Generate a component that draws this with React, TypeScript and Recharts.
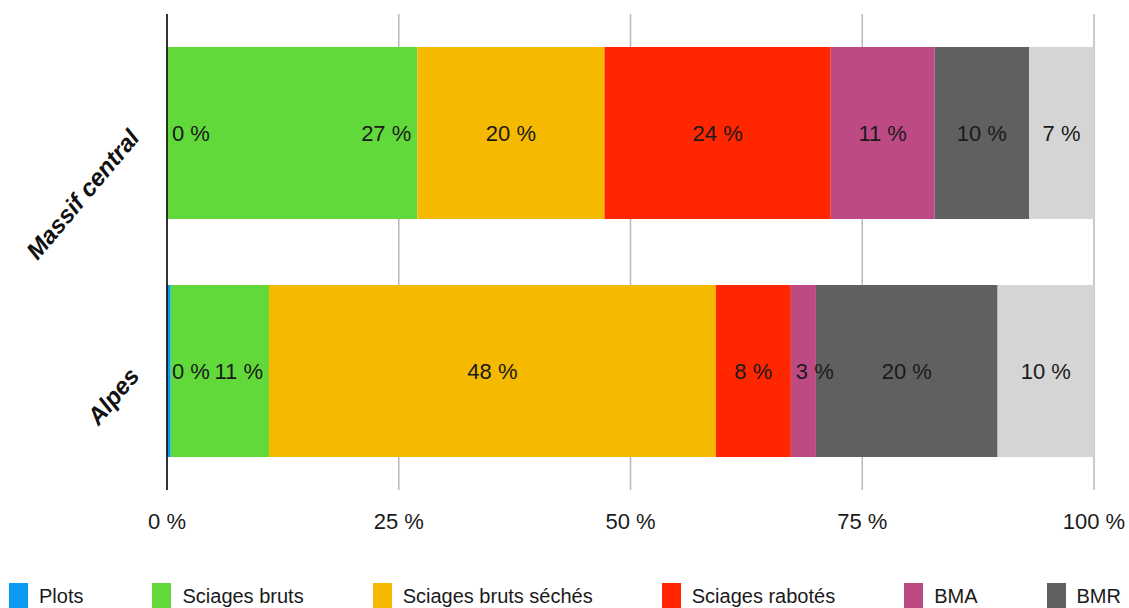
import { Bar, BarChart, CartesianGrid, XAxis, YAxis } from "recharts"

const REGIONS = ["Massif central", "Alpes"]
const PLOTS = [0, 0.4]
const SCIAGES_BRUTS = [27.0, 10.6]
const SCIAGES_BRUTS_SECHES = [20.2, 48.2]
const SCIAGES_RABOTES = [24.4, 8.1]
const BMA = [11.2, 2.7]
const BMR = [10.2, 19.6]
const AUTRES = [7.0, 10.4]
const X_TICKS = [0, 25, 50, 75, 100]

const FONT = "'Liberation Sans', Arial, sans-serif"

type Align = "start" | "end" | "middle"

const SERIES: { key: string; name: string; values: number[]; color: string; align: Align }[] = [
  { key: "plots", name: "Plots", values: PLOTS, color: "#0b9bf4", align: "start" },
  { key: "bruts", name: "Sciages bruts", values: SCIAGES_BRUTS, color: "#62d93b", align: "end" },
  { key: "seches", name: "Sciages bruts séchés", values: SCIAGES_BRUTS_SECHES, color: "#f5b900", align: "middle" },
  { key: "rabotes", name: "Sciages rabotés", values: SCIAGES_RABOTES, color: "#ff2600", align: "middle" },
  { key: "bma", name: "BMA", values: BMA, color: "#be4a84", align: "middle" },
  { key: "bmr", name: "BMR", values: BMR, color: "#606060", align: "middle" },
  { key: "autres", name: "Autres", values: AUTRES, color: "#d5d5d5", align: "middle" },
]

// the legend is cut by the picture's right edge after BMR
const LEGEND_ITEMS = SERIES.slice(0, 6)

const data = REGIONS.map((region, i) => {
  const row: Record<string, string | number> = { region }
  SERIES.forEach((s) => {
    row[s.key] = s.values[i]
  })
  return row
})

// rough text width for the 22px labels
function textWidth(t: string) {
  let w = 0
  for (const c of t) w += c === "%" ? 0.889 : c === " " ? 0.278 : 0.556
  return w * 22
}

function LabelText({ x, y, anchor, text }: { x: number; y: number; anchor: Align; text: string }) {
  return (
    <text x={x} y={y} textAnchor={anchor} dominantBaseline="central" fontSize={22} fontFamily={FONT} fill="#1a1a1a">
      {text}
    </text>
  )
}

function makeLabel(series: (typeof SERIES)[number]) {
  return (props: any) => {
    const { x, y, width, height, index } = props
    const text = `${Math.round(series.values[index])} %`
    const cy = y + height / 2
    let tx = x + width / 2
    let anchor: Align = "middle"
    if (series.align === "start" || (series.align === "middle" && width < textWidth(text) + 4)) {
      tx = x + 5
      anchor = "start"
    } else if (series.align === "end") {
      tx = x + width - 6
      anchor = "end"
    }
    // a zero-width Plots bar gets no label of its own, so draw it here
    const zeroPlots = series.key === "bruts" && PLOTS[index] === 0
    return (
      <g key={`${series.key}-${index}`}>
        {zeroPlots && <LabelText x={x + 5} y={cy} anchor="start" text="0 %" />}
        <LabelText x={tx} y={cy} anchor={anchor} text={text} />
      </g>
    )
  }
}

function RegionTick({ x, y, payload }: any) {
  return (
    <text
      x={x}
      y={y}
      transform={`rotate(-50 ${x} ${y})`}
      textAnchor="end"
      dominantBaseline="central"
      fontSize={24}
      fontWeight="bold"
      fontStyle="italic"
      fontFamily={FONT}
      fill="#111"
    >
      {payload.value}
    </text>
  )
}

export default function App() {
  return (
    <div
      style={{
        position: "absolute",
        left: 0,
        top: 0,
        width: 1129,
        height: 608,
        overflow: "hidden",
        background: "#fff",
        fontFamily: FONT,
      }}
    >
      <BarChart
        width={1129}
        height={560}
        data={data}
        layout="vertical"
        margin={{ top: 14, right: 35, bottom: 20, left: 0 }}
      >
        <CartesianGrid horizontal={false} stroke="#b8b8b8" strokeWidth={1.5} />
        <XAxis
          type="number"
          domain={[0, 100]}
          ticks={X_TICKS}
          tickFormatter={(v) => `${v} %`}
          axisLine={false}
          tickLine={false}
          tickSize={0}
          tickMargin={23}
          height={50}
          tick={{ fontSize: 22, fill: "#1a1a1a", fontFamily: FONT }}
          interval={0}
        />
        <YAxis
          type="category"
          dataKey="region"
          width={167}
          tickLine={false}
          tickSize={0}
          tickMargin={33}
          axisLine={{ stroke: "#000", strokeWidth: 1.5 }}
          tick={<RegionTick />}
        />
        {SERIES.map((s) => (
          <Bar
            key={s.key}
            dataKey={s.key}
            name={s.name}
            stackId="a"
            fill={s.color}
            barSize={172}
            isAnimationActive={false}
            label={makeLabel(s)}
          />
        ))}
      </BarChart>
      <div
        style={{
          position: "absolute",
          left: 9,
          top: 583,
          display: "flex",
          whiteSpace: "nowrap",
        }}
      >
        {LEGEND_ITEMS.map((s) => (
          <div key={s.key} style={{ display: "flex", alignItems: "flex-start", marginRight: 69 }}>
            <div style={{ width: 19, height: 26, background: s.color, marginRight: 11 }} />
            <span style={{ fontSize: 20, lineHeight: "26px", color: "#1a1a1a" }}>{s.name}</span>
          </div>
        ))}
      </div>
    </div>
  )
}
